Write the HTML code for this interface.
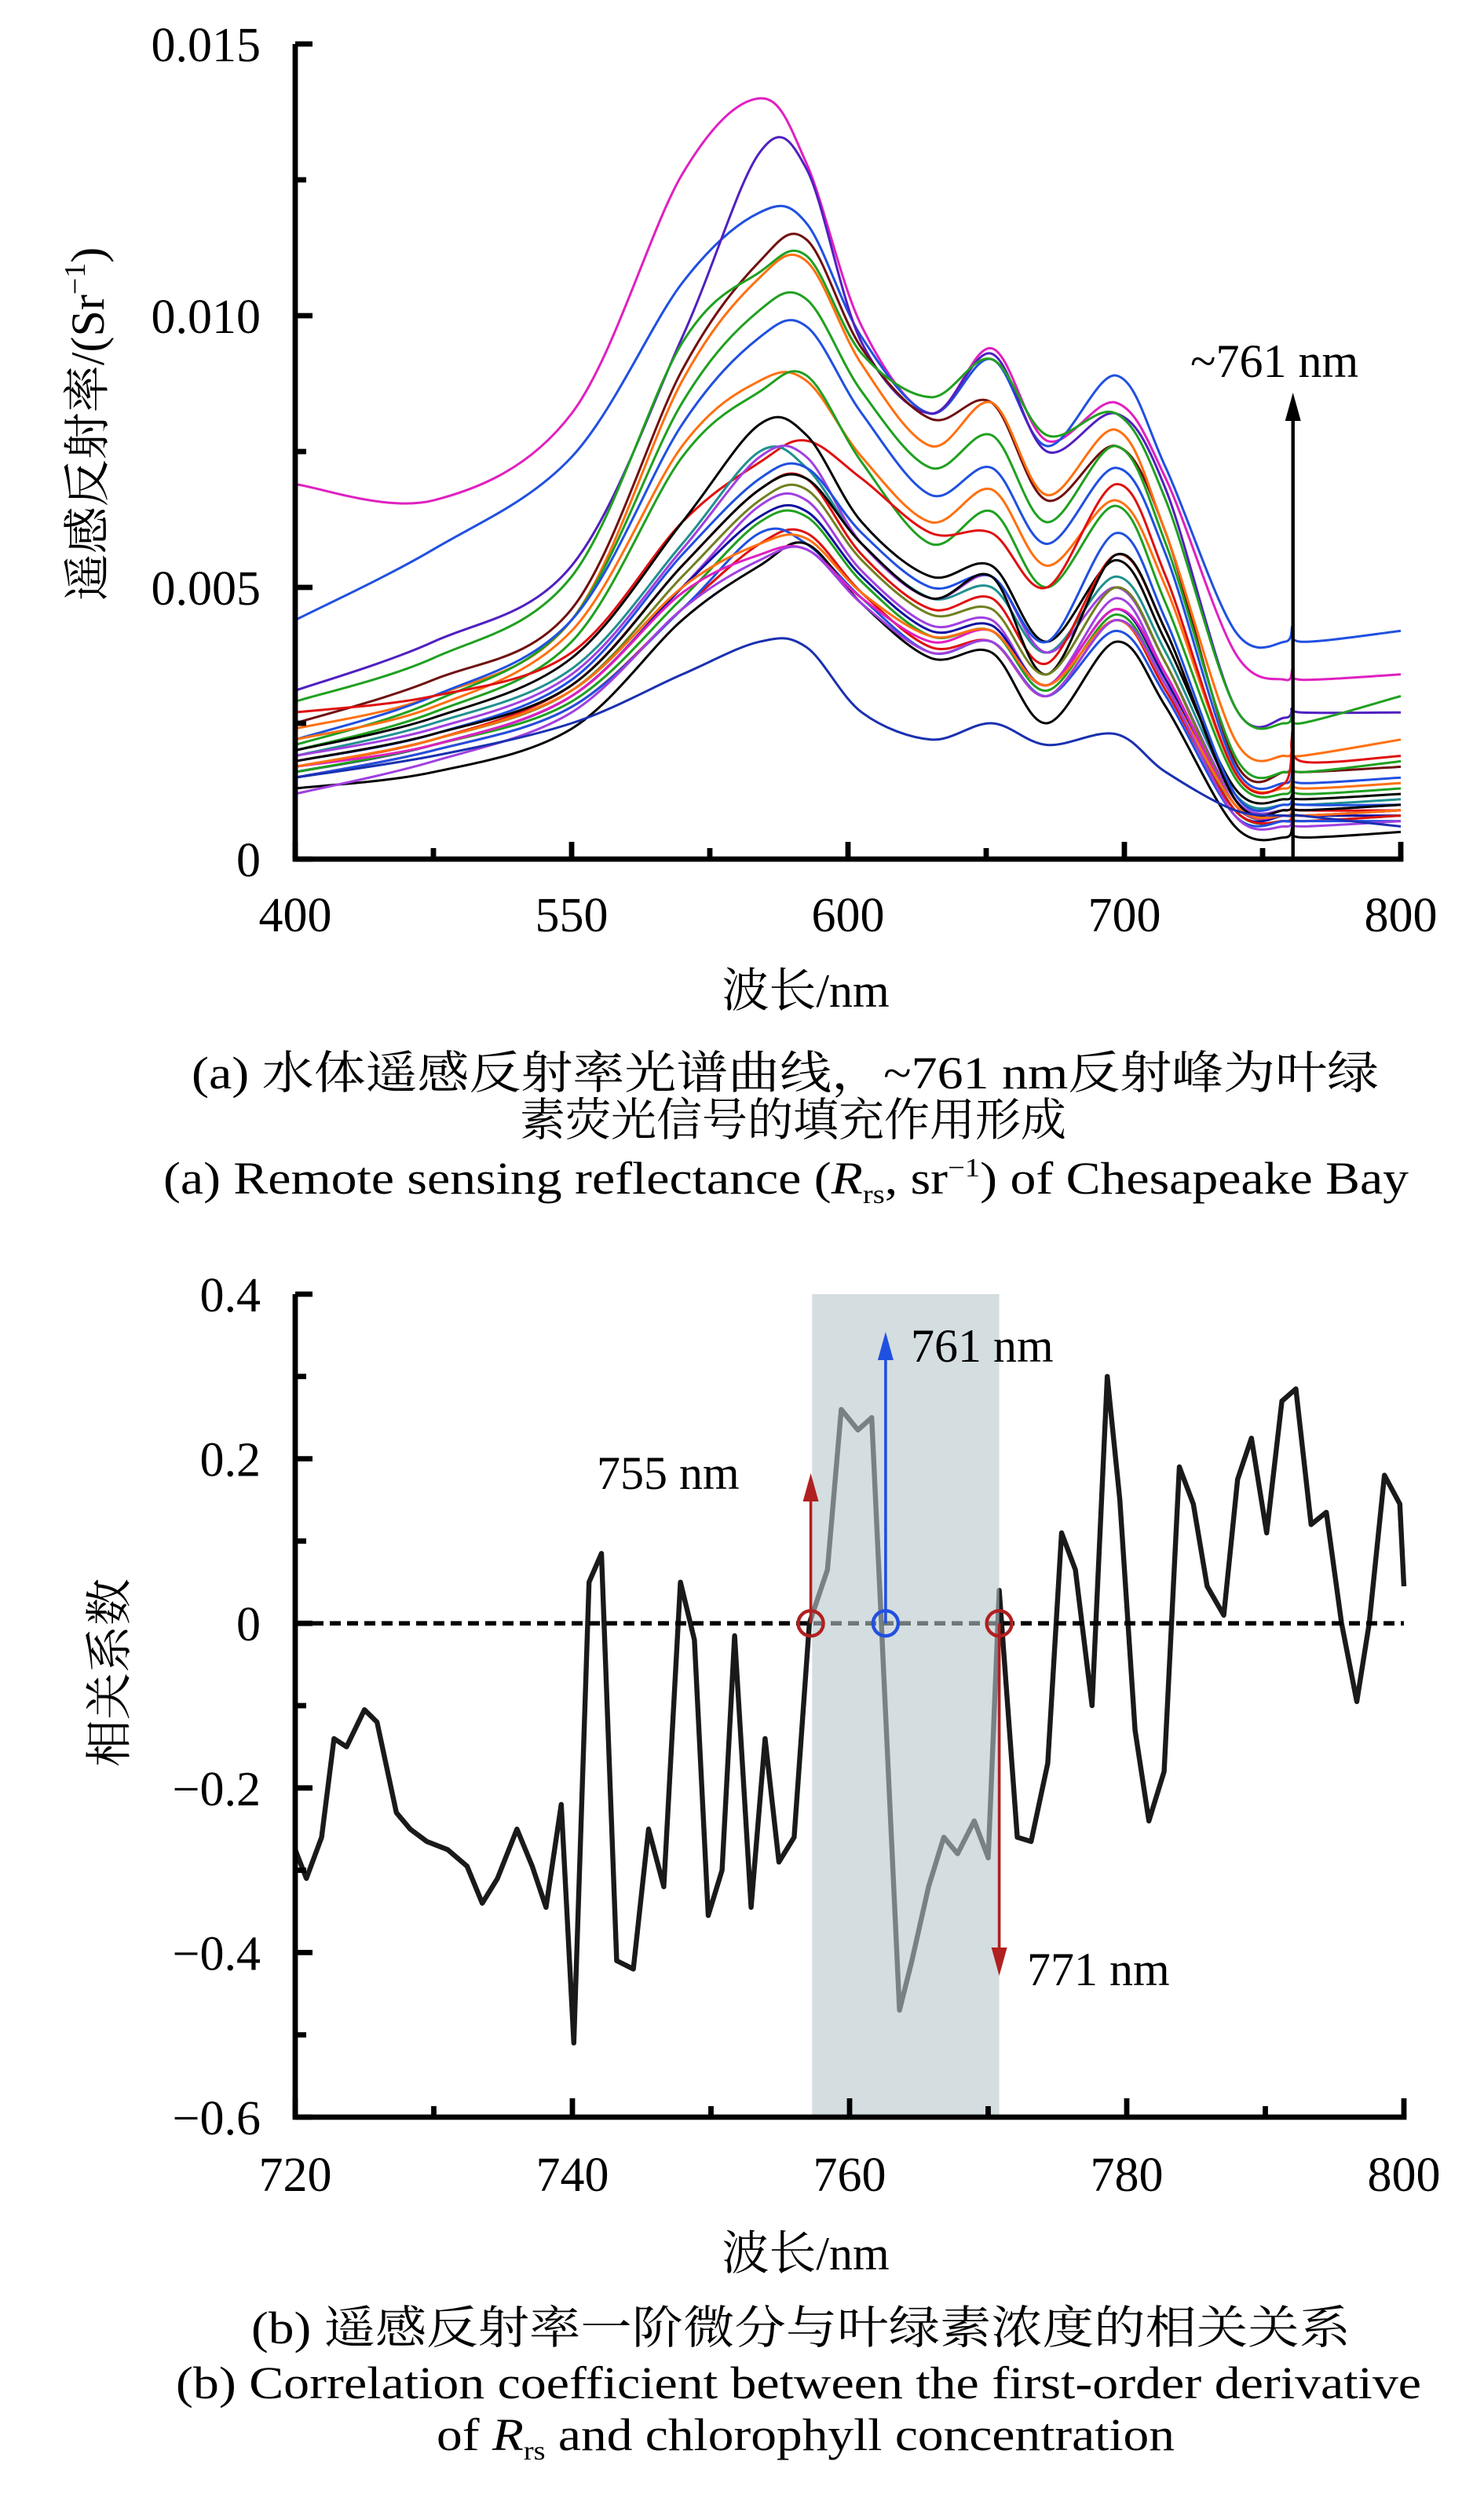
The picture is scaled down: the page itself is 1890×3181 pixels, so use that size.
<!DOCTYPE html>
<html><head><meta charset="utf-8">
<style>
html,body{margin:0;padding:0;background:#fff;}
svg{display:block;}
text{font-family:"Liberation Serif","Noto Serif CJK SC","Noto Sans CJK SC",serif;fill:#000;}
</style></head>
<body>
<svg id="fig" width="1890" height="3181" viewBox="0 0 945 1590.5" xmlns="http://www.w3.org/2000/svg">
<g id="chartA"></g>
<g id="chartB"></g>
<text x="513" y="641" font-size="30" text-anchor="middle">波长/nm</text>
<text transform="translate(66,270) rotate(-90)" font-size="30" text-anchor="middle">遥感反射率/(Sr<tspan font-size="19" dy="-12">−1</tspan><tspan dy="12">)</tspan></text>
<text x="122" y="693" font-size="29" textLength="756" lengthAdjust="spacingAndGlyphs">(a) 水体遥感反射率光谱曲线，~761 nm反射峰为叶绿</text>
<text x="505" y="723" font-size="29" text-anchor="middle">素荧光信号的填充作用形成</text>
<text x="104" y="760" font-size="29" textLength="793" lengthAdjust="spacingAndGlyphs">(a) Remote sensing reflectance (<tspan font-style="italic">R</tspan><tspan font-size="17" dy="6">rs</tspan><tspan dy="-6">, sr</tspan><tspan font-size="17" dy="-11">−1</tspan><tspan dy="11">) of Chesapeake Bay</tspan></text>
<text x="513" y="1445" font-size="30" text-anchor="middle">波长/nm</text>
<text transform="translate(80,1065) rotate(-90)" font-size="30" text-anchor="middle">相关系数</text>
<text x="160" y="1492" font-size="29" textLength="700" lengthAdjust="spacingAndGlyphs">(b) 遥感反射率一阶微分与叶绿素浓度的相关关系</text>
<text x="112" y="1527" font-size="29" textLength="793" lengthAdjust="spacingAndGlyphs">(b) Correlation coefficient between the first-order derivative</text>
<text x="278" y="1560" font-size="29" textLength="470" lengthAdjust="spacingAndGlyphs">of <tspan font-style="italic">R</tspan><tspan font-size="17" dy="6">rs</tspan><tspan dy="-6"> and chlorophyll concentration</tspan></text>
</svg>
<script>
// ---------- Chart A data ----------
const wavelengthKeys = [400,450,500,540,568,585,605,630,652,672,697,715,740,758,761,764,800];
const xTickValuesA = [400,500,600,700,800];
const xTickLabelsA = ['400','550','600','700','800'];
const yTickValuesA = [0,0.005,0.010,0.015];
const yTickLabelsA = ['0','0.005','0.010','0.015'];
const seriesColorsA = ['#e020c0','#2050e0','#5020c0','#701010','#20a020','#ff7010','#20a020','#2050e0','#ff7010','#20a020','#e01010','#000000','#209090','#a040e0','#2050e0','#e01010','#000000','#708020','#a040e0','#1010a0','#20a020','#e01010','#2050e0','#000000','#e020c0','#ff7010','#a040e0','#1a30b0'];
// reflectance in units of 1e-4 sr^-1
const spectraA = [
[69,66,82,126,140,128,98,82,94,77,84,70,38,33,35,33,34],
[44,57,74,106,119,117,96,82,92,76,89,72,42,40,43,40,42],
[31,40,54,96,130,127,95,82,93,75,82,68,28,26,28,27,27],
[25,33,46,90,110,114,94,81,84,66,76,60,18,16,17,16,17],
[29,37,52,95,108,111,93,85,92,78,82,66,28,25,27,25,30],
[24,30,44,88,107,110,91,76,84,67,79,60,22,19,20,19,22],
[21,29,44,84,101,103,86,72,78,62,76,58,19,16,18,16,18],
[22,30,44,80,96,98,82,67,72,58,72,56,17,14,16,14,15],
[22,28,42,76,88,88,74,62,68,54,66,50,16,13,15,13,14],
[20,27,40,74,86,89,73,58,64,50,65,47,15,12,14,12,13],
[27,30,38,62,73,77,70,60,60,50,69,52,16,14,24,18,19],
[20,26,37,62,80,78,62,52,54,40,55,40,13,11,12,11,12],
[19,25,35,58,75,72,58,48,50,38,52,38,12,10,11,10,11],
[19,24,34,57,74,74,58,48,52,38,50,36,11,9,10,9,10],
[18,23,33,56,70,72,60,50,52,40,60,44,12,10,11,10,10],
[17,22,32,54,68,70,56,46,48,36,56,42,11,9,10,9,9],
[18,23,32,54,68,70,58,48,52,34,56,42,11,9,10,9,10],
[17,22,31,52,66,68,55,45,46,34,50,36,10,8,9,8,9],
[16,21,30,50,65,66,53,43,44,32,48,34,10,8,9,8,9],
[16,21,30,50,63,64,52,42,43,32,46,33,9,8,8,8,8],
[16,21,29,48,62,63,51,41,42,31,45,32,9,7,8,7,8],
[15,20,28,46,58,60,49,39,40,30,44,31,9,7,8,7,8],
[15,20,28,46,60,58,48,38,40,30,42,30,8,7,7,7,7],
[13,16,24,44,54,58,47,37,38,25,40,28,6,4,6,4,5],
[17,21,30,49,56,57,48,40,42,32,46,34,10,8,9,8,9],
[17,22,31,50,58,59,49,41,42,32,44,32,10,8,9,8,9],
[12,18,27,46,55,57,47,38,40,30,44,32,8,6,7,6,7],
[15,19,25,34,40,39,27,22,25,21,23,16,9,8,8,8,6]
];
// ---------- Chart B data ----------
const wavelengthB = [720,720.8,721.9,722.8,723.7,725.0,725.9,727.3,728.3,729.5,731.0,732.4,733.5,734.6,736.0,737.1,738.1,739.2,740.1,741.2,742.1,743.2,744.4,745.5,746.6,747.8,748.8,749.8,750.8,751.7,752.9,753.9,754.9,756.0,757.1,758.4,759.4,760.6,761.6,763.6,764.5,765.7,766.8,767.8,769.0,770.0,770.8,772.1,773.1,774.3,775.3,776.3,777.5,778.6,779.5,780.6,781.6,782.7,783.8,784.8,785.8,787.0,788.0,789.0,790.1,791.2,792.2,793.3,794.4,795.5,796.6,797.5,798.6,799.7,800];
const correlationB = [-0.275,-0.31,-0.26,-0.14,-0.15,-0.105,-0.12,-0.23,-0.25,-0.265,-0.275,-0.295,-0.34,-0.31,-0.25,-0.295,-0.345,-0.22,-0.51,0.05,0.085,-0.41,-0.42,-0.25,-0.32,0.05,-0.02,-0.355,-0.3,-0.015,-0.345,-0.14,-0.29,-0.26,0.0,0.065,0.26,0.235,0.25,-0.47,-0.41,-0.32,-0.26,-0.28,-0.24,-0.285,0.04,-0.26,-0.265,-0.17,0.11,0.065,-0.1,0.3,0.15,-0.13,-0.24,-0.18,0.19,0.145,0.045,0.01,0.175,0.225,0.11,0.27,0.285,0.12,0.135,0.0,-0.095,0.0,0.18,0.145,0.045];
const xTickValuesB = [720,740,760,780,800];
const xTickLabelsB = ['720','740','760','780','800'];
const yTickValuesB = [0.4,0.2,0,-0.2,-0.4,-0.6];
const yTickLabelsB = ['0.4','0.2','0','−0.2','−0.4','−0.6'];
const bandB = [757.3,770.8];
const markersB = [757.2,762.6,770.8];
const markerColorsB = ['#b02020','#2050e0','#b02020'];

const NS='http://www.w3.org/2000/svg';
function mk(tag,parent,attrs){const e=document.createElementNS(NS,tag);for(const k in attrs)e.setAttribute(k,attrs[k]);parent.appendChild(e);return e;}

// ---- Chart A ----
const A=document.getElementById('chartA');
const ax0=188,ax1=892,ay0=547,ay1=28;
const xA=v=>ax0+(v-400)/400*(ax1-ax0);
const yA=v=>ay0-(v/0.015)*(ay0-ay1);
function smoothPath(pts){
  let d='M'+pts[0][0].toFixed(1)+','+pts[0][1].toFixed(1);
  for(let i=0;i<pts.length-1;i++){
    const p0=pts[Math.max(0,i-1)],p1=pts[i],p2=pts[i+1],p3=pts[Math.min(pts.length-1,i+2)];
    const c1=[p1[0]+(p2[0]-p0[0])/6,p1[1]+(p2[1]-p0[1])/6];
    const c2=[p2[0]-(p3[0]-p1[0])/6,p2[1]-(p3[1]-p1[1])/6];
    d+=' C'+c1[0].toFixed(1)+','+c1[1].toFixed(1)+' '+c2[0].toFixed(1)+','+c2[1].toFixed(1)+' '+p2[0].toFixed(1)+','+p2[1].toFixed(1);
  }
  return d;
}
spectraA.forEach((s,i)=>{
  const pts=s.map((v,j)=>[xA(wavelengthKeys[j]),yA(v*1e-4)]);
  const p=mk('path',A,{d:smoothPath(pts),fill:'none',stroke:seriesColorsA[i%seriesColorsA.length],'stroke-width':1.5});
  
  
});
// axes A
let e=mk('line',A,{x1:ax0,y1:ay1,x2:ax0,y2:ay0,stroke:'#000','stroke-width':3.4});

e=mk('line',A,{x1:ax0-1.7,y1:ay0,x2:ax1+1.7,y2:ay0,stroke:'#000','stroke-width':3.4});

for(let v=400;v<=800;v+=50){
  const major=(v%100===0);
  e=mk('line',A,{x1:xA(v),y1:ay0,x2:xA(v),y2:ay0-(major?11:7),stroke:'#000','stroke-width':3.4});
  
}
for(let k=0;k<=6;k++){
  const v=k*0.0025;
  e=mk('line',A,{x1:ax0,y1:yA(v),x2:ax0+(k%2===0?11:7),y2:yA(v),stroke:'#000','stroke-width':3.4});
  
}
xTickValuesA.forEach((v,i)=>{
  const t=mk('text',A,{x:xA(v),y:593,'font-size':31,'text-anchor':'middle'});t.textContent=xTickLabelsA[i];
  
});
yTickValuesA.forEach((v,i)=>{
  const t=mk('text',A,{x:166,y:yA(v)+11,'font-size':31,'text-anchor':'end'});t.textContent=yTickLabelsA[i];
  
});
e=mk('line',A,{x1:xA(761),y1:ay0,x2:xA(761),y2:262,stroke:'#000','stroke-width':2.2});

e=mk('path',A,{d:`M${xA(761)},250 L${xA(761)-5},268 L${xA(761)+5},268 Z`,fill:'#000'});

e=mk('text',A,{x:758,y:240,'font-size':30});e.textContent='~761 nm';


// ---- Chart B ----
const B=document.getElementById('chartB');
const bx0=188,bx1=894,by0=1348,by1=824;
const xB=v=>bx0+(v-720)/80*(bx1-bx0);
const yB=v=>by0-(v+0.6)/1.0*(by0-by1);
let d='';
wavelengthB.forEach((w,i)=>{d+=(i?' L':'M')+xB(w).toFixed(1)+','+yB(correlationB[i]).toFixed(1);});
e=mk('path',B,{d:d,fill:'none',stroke:'#1a1a1a','stroke-width':3.2,'stroke-linejoin':'round'});

e=mk('line',B,{x1:bx0,y1:yB(0),x2:bx1,y2:yB(0),stroke:'#000','stroke-width':2.8,'stroke-dasharray':'7 4'});

e=mk('rect',B,{x:xB(bandB[0]),y:by1,width:xB(bandB[1])-xB(bandB[0]),height:by0-by1,fill:'#b8c6c9','fill-opacity':0.6});

// axes B
e=mk('line',B,{x1:bx0,y1:by1,x2:bx0,y2:by0,stroke:'#000','stroke-width':3.4});

e=mk('line',B,{x1:bx0-1.7,y1:by0,x2:bx1+1.7,y2:by0,stroke:'#000','stroke-width':3.4});

for(let v=720;v<=800;v+=10){
  const major=(v%20===0);
  e=mk('line',B,{x1:xB(v),y1:by0,x2:xB(v),y2:by0-(major?12:7),stroke:'#000','stroke-width':3.4});
  
}
for(let k=0;k<=10;k++){
  const v=0.4-k*0.1;
  e=mk('line',B,{x1:bx0,y1:yB(v),x2:bx0+(k%2===0?11:7),y2:yB(v),stroke:'#000','stroke-width':3.4});
  
}
xTickValuesB.forEach((v,i)=>{
  const t=mk('text',B,{x:xB(v),y:1395,'font-size':31,'text-anchor':'middle'});t.textContent=xTickLabelsB[i];
  
});
yTickValuesB.forEach((v,i)=>{
  const t=mk('text',B,{x:166,y:yB(v)+11,'font-size':31,'text-anchor':'end'});t.textContent=yTickLabelsB[i];
  
});
// arrows
function arrow(x,yStart,yEnd,color,name){
  const dir=yEnd<yStart?1:-1;
  let l=mk('line',B,{x1:x,y1:yStart,x2:x,y2:yEnd+dir*14,stroke:color,'stroke-width':1.8});
  
  let h=mk('path',B,{d:`M${x},${yEnd} L${x-5},${yEnd+dir*18} L${x+5},${yEnd+dir*18} Z`,fill:color});
  
}
arrow(xB(markersB[0]),yB(0),938,'#b02020','arrow-755');
arrow(xB(markersB[1]),yB(0),848,'#2050e0','arrow-761');
arrow(xB(markersB[2]),yB(0),1258,'#b02020','arrow-771');
markersB.forEach((w,i)=>{
  const c=mk('circle',B,{cx:xB(w),cy:yB(0),r:8,fill:'none',stroke:markerColorsB[i],'stroke-width':2.2});
  
});
e=mk('text',B,{x:380,y:948,'font-size':30});e.textContent='755 nm';

e=mk('text',B,{x:580,y:867,'font-size':30});e.textContent='761 nm';

e=mk('text',B,{x:654,y:1264,'font-size':30});e.textContent='771 nm';

</script>
</body></html>
